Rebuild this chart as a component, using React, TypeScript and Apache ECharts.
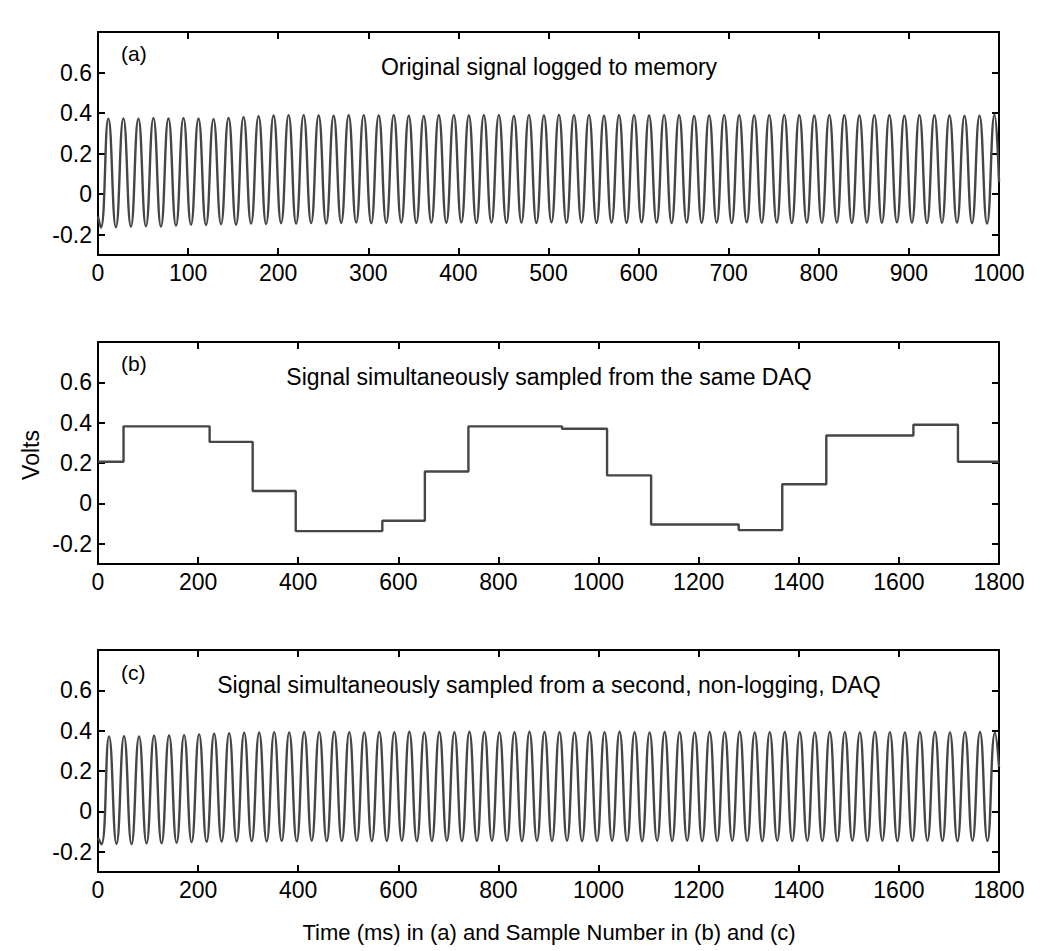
import React, { useEffect, useRef } from "react";
import * as echarts from "echarts";

// ---------- Data ----------
// Panel (a): original signal, time in ms
const A_START: [number, number] = [0, -0.11];
const A_END: [number, number] = [1000, 0.06];
const A_FIRST_TROUGH_MS = 3.2;
const A_FIRST_PEAK_MS = 11.5;
const A_PERIOD_MS = 16.67;
const A_PEAKS = [
  0.372, 0.374, 0.372, 0.375, 0.373, 0.375, 0.372, 0.37, 0.376, 0.38,
  0.385, 0.388, 0.39, 0.39, 0.388, 0.387, 0.389, 0.39, 0.388, 0.389,
  0.387, 0.386, 0.389, 0.39, 0.388, 0.389, 0.39, 0.386, 0.39, 0.388,
  0.391, 0.389, 0.39, 0.387, 0.389, 0.39, 0.388, 0.39, 0.389, 0.386,
  0.388, 0.39, 0.389, 0.388, 0.39, 0.391, 0.389, 0.388, 0.39, 0.389,
  0.388, 0.39, 0.389, 0.387, 0.39, 0.389, 0.388, 0.386, 0.387, 0.392,
];
const A_TROUGHS = [
  -0.165, -0.163, -0.16, -0.158, -0.16, -0.155, -0.15, -0.152, -0.148, -0.15,
  -0.145, -0.147, -0.143, -0.145, -0.142, -0.144, -0.142, -0.14, -0.143, -0.141,
  -0.14, -0.142, -0.14, -0.141, -0.139, -0.142, -0.14, -0.141, -0.14, -0.142,
  -0.139, -0.141, -0.14, -0.142, -0.14, -0.141, -0.139, -0.14, -0.142, -0.14,
  -0.141, -0.14, -0.142, -0.139, -0.141, -0.14, -0.142, -0.14, -0.141, -0.14,
  -0.142, -0.14, -0.141, -0.139, -0.14, -0.142, -0.141, -0.14, -0.143, -0.145,
];

// Panel (b): stepped samples (start of each level, level value)
const B_STEP_STARTS = [0, 51, 223, 309, 395, 568, 653, 740, 927, 1017, 1105, 1280, 1367, 1455, 1629, 1718];
const B_STEP_LEVELS = [0.207, 0.382, 0.305, 0.062, -0.137, -0.086, 0.158, 0.382, 0.37, 0.139, -0.104, -0.132, 0.095, 0.337, 0.39, 0.207];
const B_END = 1800;

// Panel (c): second DAQ, sample number
const C_START: [number, number] = [0, -0.13];
const C_END: [number, number] = [1800, 0.22];
const C_FIRST_TROUGH = 7;
const C_FIRST_PEAK = 22;
const C_PERIOD = 30;
const C_PEAKS = [
  0.372, 0.373, 0.372, 0.375, 0.376, 0.378, 0.382, 0.385, 0.388, 0.39,
  0.392, 0.393, 0.392, 0.394, 0.393, 0.395, 0.393, 0.392, 0.394, 0.393,
  0.395, 0.392, 0.394, 0.393, 0.395, 0.394, 0.392, 0.393, 0.395, 0.394,
  0.393, 0.392, 0.394, 0.393, 0.395, 0.393, 0.392, 0.394, 0.393, 0.392,
  0.394, 0.393, 0.395, 0.392, 0.393, 0.394, 0.393, 0.392, 0.394, 0.393,
  0.392, 0.394, 0.393, 0.392, 0.393, 0.394, 0.392, 0.393, 0.394, 0.39,
];
const C_TROUGHS = [
  -0.163, -0.16, -0.162, -0.158, -0.157, -0.155, -0.152, -0.15, -0.149, -0.148,
  -0.147, -0.148, -0.146, -0.147, -0.145, -0.147, -0.146, -0.145, -0.147, -0.146,
  -0.145, -0.147, -0.146, -0.145, -0.147, -0.146, -0.145, -0.146, -0.147, -0.145,
  -0.146, -0.145, -0.147, -0.146, -0.145, -0.146, -0.147, -0.145, -0.146, -0.145,
  -0.147, -0.146, -0.145, -0.146, -0.147, -0.145, -0.146, -0.145, -0.146, -0.147,
  -0.145, -0.146, -0.145, -0.147, -0.146, -0.145, -0.146, -0.147, -0.145, -0.146,
];

const Y_TICKS = [-0.2, 0, 0.2, 0.4, 0.6];
const Y_MIN = -0.3;
const Y_MAX = 0.8;

const PANEL_LETTERS = ["(a)", "(b)", "(c)"];
const PANEL_TITLES = [
  "Original signal logged to memory",
  "Signal simultaneously sampled from the same DAQ",
  "Signal simultaneously sampled from a second, non-logging, DAQ",
];
const Y_NAME = "Volts";
const X_NAME = "Time (ms) in (a) and Sample Number in (b) and (c)";

// ---------- Builders ----------
function oscillation(
  start: [number, number],
  end: [number, number],
  firstTrough: number,
  firstPeak: number,
  period: number,
  troughs: number[],
  peaks: number[]
): [number, number][] {
  const pts: [number, number][] = [start];
  for (let i = 0; i < peaks.length; i++) {
    pts.push([firstTrough + i * period, troughs[i]]);
    pts.push([firstPeak + i * period, peaks[i]]);
  }
  pts.push(end);
  return pts;
}

const dataA = oscillation(A_START, A_END, A_FIRST_TROUGH_MS, A_FIRST_PEAK_MS, A_PERIOD_MS, A_TROUGHS, A_PEAKS);
const dataC = oscillation(C_START, C_END, C_FIRST_TROUGH, C_FIRST_PEAK, C_PERIOD, C_TROUGHS, C_PEAKS);
const dataB: [number, number][] = B_STEP_STARTS.map((x, i) => [x, B_STEP_LEVELS[i]] as [number, number]);
dataB.push([B_END, B_STEP_LEVELS[B_STEP_LEVELS.length - 1]]);

const FONT = "'Liberation Sans', Arial, Helvetica, sans-serif";
const LINE_COLOR = "#464646";

export default function App() {
  const ref = useRef<HTMLDivElement>(null);

  useEffect(() => {
    if (!ref.current) return;
    const chart = echarts.init(ref.current, null, { renderer: "svg" });

    const grids = [
      { left: 98, right: 51, top: 32, height: 223 },
      { left: 98, right: 51, top: 342, height: 222 },
      { left: 98, right: 51, top: 650, height: 222 },
    ];
    const xRanges = [
      { max: 1000, interval: 100 },
      { max: 1800, interval: 200 },
      { max: 1800, interval: 200 },
    ];

    const xAxes: any[] = [];
    const yAxes: any[] = [];
    grids.forEach((_, k) => {
      const common = {
        type: "value",
        gridIndex: k,
        min: 0,
        max: xRanges[k].max,
        interval: xRanges[k].interval,
        splitLine: { show: false },
        axisLine: { show: true, onZero: false, lineStyle: { color: "#000", width: 2 } },
        axisTick: { show: true, inside: true, length: 7, lineStyle: { color: "#000", width: 2 } },
      };
      xAxes.push({
        ...common,
        position: "bottom",
        axisLabel: {
          show: true,
          color: "#000",
          fontSize: 23,
          fontFamily: FONT,
          margin: 6,
          formatter: (v: number) => String(v),
        },
      });
      xAxes.push({ ...common, position: "top", axisLabel: { show: false } });

      const ycommon = {
        type: "value",
        gridIndex: k,
        min: Y_MIN,
        max: Y_MAX,
        splitLine: { show: false },
        axisLine: { show: true, onZero: false, lineStyle: { color: "#000", width: 2 } },
        axisTick: {
          show: true,
          inside: true,
          length: 7,
          customValues: Y_TICKS,
          lineStyle: { color: "#000", width: 2 },
        },
      };
      yAxes.push({
        ...ycommon,
        position: "left",
        axisLabel: {
          show: true,
          color: "#000",
          fontSize: 23,
          fontFamily: FONT,
          margin: 6,
          customValues: Y_TICKS,
          formatter: (v: number) => String(Math.round(v * 10) / 10),
        },
      });
      yAxes.push({ ...ycommon, position: "right", axisLabel: { show: false } });
    });

    const lineBase = {
      type: "line",
      showSymbol: false,
      symbol: "none",
      lineStyle: { color: LINE_COLOR, width: 2.4 },
      silent: true,
    };

    const graphics: any[] = [];
    const titleY = [67, 377, 685];
    const letterY = [53, 363, 672];
    grids.forEach((_, k) => {
      graphics.push({
        type: "text",
        x: 121,
        y: letterY[k],
        style: {
          text: PANEL_LETTERS[k],
          fontSize: 21,
          fontFamily: FONT,
          fill: "#000",
          verticalAlign: "middle",
        },
      });
      graphics.push({
        type: "text",
        x: 549,
        y: titleY[k],
        style: {
          text: PANEL_TITLES[k],
          fontSize: 23,
          fontFamily: FONT,
          fill: "#000",
          align: "center",
          verticalAlign: "middle",
        },
      });
    });
    graphics.push({
      type: "text",
      x: 31,
      y: 455,
      rotation: Math.PI / 2,
      style: { text: Y_NAME, fontSize: 23, fontFamily: FONT, fill: "#000", align: "center", verticalAlign: "middle" },
    });
    graphics.push({
      type: "text",
      x: 549,
      y: 932,
      style: { text: X_NAME, fontSize: 22, fontFamily: FONT, fill: "#000", align: "center", verticalAlign: "middle" },
    });

    chart.setOption({
      animation: false,
      backgroundColor: "#fff",
      grid: grids,
      xAxis: xAxes,
      yAxis: yAxes,
      series: [
        { ...lineBase, xAxisIndex: 0, yAxisIndex: 0, smooth: 0.5, data: dataA },
        { ...lineBase, xAxisIndex: 2, yAxisIndex: 2, step: "end", data: dataB },
        { ...lineBase, xAxisIndex: 4, yAxisIndex: 4, smooth: 0.5, data: dataC },
      ],
      graphic: graphics,
    });

    return () => chart.dispose();
  }, []);

  return (
    <div
      ref={ref}
      style={{ position: "fixed", left: 0, top: 0, width: 1050, height: 951, background: "#fff" }}
    />
  );
}
